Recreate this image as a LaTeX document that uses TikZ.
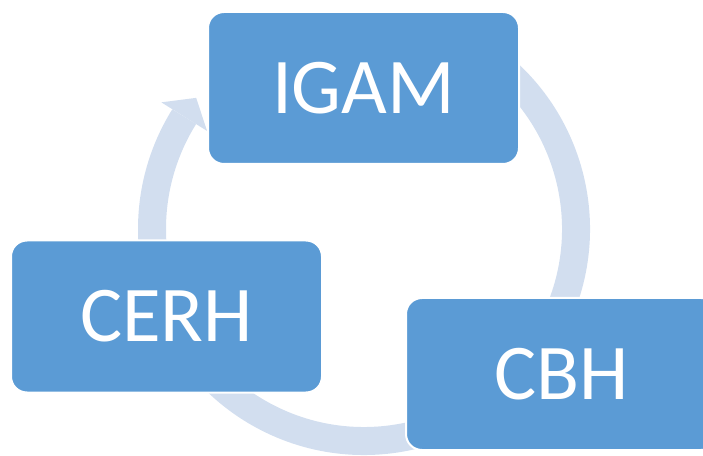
\documentclass[tikz,border=0pt]{standalone}
\usepackage{fontspec}
\setmainfont{Carlito}
\definecolor{boxblue}{HTML}{5B9BD5}
\definecolor{ringblue}{HTML}{D2DEEF}
\begin{document}
\begin{tikzpicture}[x=1pt, y=1pt]
			\tikzstyle{stage}  = [rectangle, rounded corners=16pt, minimum width=311pt, minimum height=152pt, inner sep=0pt, draw=white, line width=2pt, fill=boxblue, text=white, font=\fontsize{79}{90}\selectfont]
			\tikzstyle{ring}   = [draw=ringblue, line width=28pt]

			\useasboundingbox (0,0) rectangle (703,455);
			\clip (0,0) rectangle (703,455);

			\coordinate (c) at (364, 226);

			% circular arrow behind the boxes
			\draw[ring] ([shift={(60:212)}]c) arc[start angle=60, end angle=-212, radius=212];
			\fill[ringblue, shift={(c)}] (148:239) -- (142:213) -- (148:185) -- cycle;

			\foreach \name/\text/\x/\y in {igam/IGAM/363.5/367, cerh/CERH/166.5/138.5, cbh/CBH/561.5/81}
				\node[stage] (\name) at (\x, \y) {\text};

		\end{tikzpicture}
\end{document}
